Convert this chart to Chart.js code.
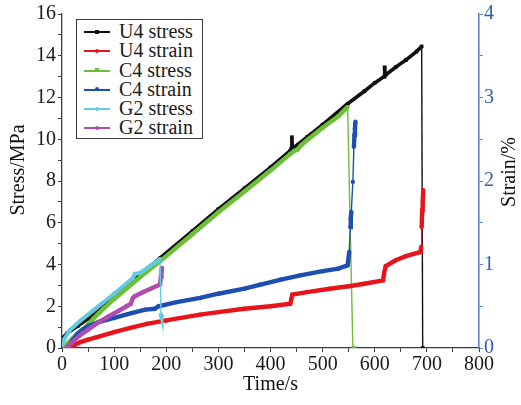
<!DOCTYPE html>
<html>
<head>
<meta charset="utf-8">
<script src="https://cdn.jsdelivr.net/npm/chart.js@4/dist/chart.umd.min.js"></script>
<style>
  html, body { margin: 0; padding: 0; background: #fff; }
  #wrap { position: relative; width: 521px; height: 405px; }
  #c { position: absolute; left: 0; top: 0; }
  #legend {
    position: absolute; left: 76px; top: 19px; width: 125px; height: 116px;
    border: 1.5px solid #3a3a3a; background: #fff; padding-top: 2px; box-sizing: content-box;
    font-family: 'Liberation Serif', 'DejaVu Serif', serif; font-size: 20px; color: #1a1a1a;
  }
  .row { position: relative; height: 19.3px; line-height: 19.3px; white-space: nowrap; }
  .ln { position: absolute; left: 7px; top: 9px; width: 26px; height: 2px; }
  .dot { position: absolute; left: 11px; top: -1.5px; width: 4px; height: 4px; border-radius: 2px; }
  .txt { position: absolute; left: 42px; top: 0; }
</style>
</head>
<body>
<div id="wrap">
  <canvas id="c" width="521" height="405"></canvas>
  <div id="legend"></div>
</div>
<script>
// ---------- data ----------
const xTitle = 'Time/s';
const yTitle = 'Stress/MPa';
const y2Title = 'Strain/%';

const labels = ['U4 stress', 'U4 strain', 'C4 stress', 'C4 strain', 'G2 stress', 'G2 strain'];

// U4 stress (MPa)
const u4StressTime = [0, 10, 30, 50, 73, 100, 150, 188, 250, 300, 350, 400, 438, 440, 441, 442, 470, 500, 548, 580, 600, 618, 619, 620, 622, 640, 660, 680, 690, 692];
const u4Stress     = [0.45, 0.7, 1.05, 1.4, 1.85, 2.45, 3.5, 4.3, 5.6, 6.65, 7.65, 8.65, 9.45, 9.55, 10.1, 9.55, 10.1, 10.7, 11.7, 12.3, 12.7, 13.0, 13.45, 13.1, 13.1, 13.45, 13.8, 14.2, 14.45, 0];

// U4 strain (%)
const u4StrainTime = [15, 25, 35, 50, 67, 100, 131, 163, 200, 265, 300, 350, 400, 438, 440, 442, 470, 514, 550, 580, 616, 618, 621, 640, 660, 688, 689, 690, 691, 692, 693];
const u4Strain     = [0, 0.04, 0.07, 0.1, 0.13, 0.19, 0.24, 0.29, 0.33, 0.4, 0.43, 0.47, 0.5, 0.53, 0.59, 0.64, 0.67, 0.71, 0.74, 0.77, 0.81, 0.9, 0.98, 1.05, 1.1, 1.15, 1.21, 1.45, 1.65, 1.75, 1.89];

// C4 stress (MPa)
const c4StressTime = [5, 10, 20, 30, 45, 60, 80, 100, 150, 188, 250, 300, 350, 400, 438, 446, 452, 458, 470, 500, 530, 548, 558, 561];
const c4Stress     = [0, 0.2, 0.45, 0.7, 1.0, 1.4, 1.9, 2.35, 3.4, 4.15, 5.45, 6.5, 7.5, 8.5, 9.3, 9.45, 9.5, 9.7, 9.95, 10.55, 11.1, 11.55, 0, 0];

// C4 strain (%)
const c4StrainTime = [10, 15, 20, 30, 40, 50, 70, 100, 135, 160, 178, 185, 220, 265, 300, 350, 381, 420, 457, 500, 530, 548, 551, 553, 554, 555, 558, 560, 561, 562, 563];
const c4Strain     = [0, 0.04, 0.09, 0.17, 0.22, 0.26, 0.31, 0.36, 0.42, 0.46, 0.47, 0.5, 0.55, 0.6, 0.65, 0.71, 0.76, 0.82, 0.87, 0.92, 0.95, 0.99, 1.15, 1.45, 1.55, 1.63, 1.99, 2.41, 2.55, 2.63, 2.71];

// G2 stress (MPa)
const g2StressTime = [0, 5, 15, 35, 60, 100, 136, 140, 150, 170, 188, 190, 191];
const g2Stress     = [0.15, 0.45, 0.85, 1.3, 1.8, 2.6, 3.35, 3.55, 3.6, 3.95, 4.25, 1.6, 1.5];

// G2 strain (%)
const g2StrainTime = [8, 15, 25, 34, 50, 73, 90, 110, 124, 132, 136, 140, 156, 170, 188, 190, 191, 192];
const g2Strain     = [0, 0.04, 0.1, 0.15, 0.22, 0.32, 0.38, 0.45, 0.5, 0.53, 0.6, 0.62, 0.67, 0.71, 0.76, 0.86, 0.93, 0.96];

// ---------- styling ----------
const colors = {
  'U4 stress': '#111111',
  'U4 strain': '#e8141c',
  'C4 stress': '#6cbf36',
  'C4 strain': '#1d4fb3',
  'G2 stress': '#62cbe0',
  'G2 strain': '#b04cb0'
};
const widths = {
  'U4 stress': 3.6,
  'U4 strain': 4.4,
  'C4 stress': 4.4,
  'C4 strain': 4.4,
  'G2 stress': 4.0,
  'G2 strain': 4.4
};
const FONT = "'Liberation Serif', 'DejaVu Serif', serif";

function pts(t, v) { return t.map((x, i) => ({ x: x, y: v[i] })); }

const thinW = 1.4;
function segWidthFor(w) {
  return ctx => {
    const dx = Math.abs(ctx.p1.x - ctx.p0.x), dy = Math.abs(ctx.p1.y - ctx.p0.y);
    return (dy > 20 && dy > 3 * dx) ? thinW : w;
  };
}

function ds(label, t, v, axis, style) {
  const c = colors[label];
  return {
    label: label,
    data: pts(t, v),
    yAxisID: axis,
    borderColor: c,
    backgroundColor: c,
    pointBackgroundColor: c,
    pointBorderColor: c,
    pointBorderWidth: 0,
    pointRadius: style === 'rect' ? 2.6 : 2.2,
    pointStyle: style || 'circle',
    borderWidth: widths[label],
    tension: 0,
    fill: false,
    segment: { borderWidth: segWidthFor(widths[label]) }
  };
}

// first dataset is drawn on top
const datasets = [
  ds('G2 stress', g2StressTime, g2Stress, 'y'),
  ds('G2 strain', g2StrainTime, g2Strain, 'y2'),
  ds('U4 strain', u4StrainTime, u4Strain, 'y2'),
  ds('C4 strain', c4StrainTime, c4Strain, 'y2'),
  ds('C4 stress', c4StressTime, c4Stress, 'y', 'rect'),
  ds('U4 stress', u4StressTime, u4Stress, 'y', 'rect')
];

const axisColor = '#3c3c3c';
const rightColor = '#5a85cc';

const titlesPlugin = {
  id: 'yTitles',
  afterDraw(chart) {
    const c = chart.ctx;
    c.save();
    c.font = '20px ' + FONT;
    c.fillStyle = '#111';
    c.textAlign = 'center';
    c.textBaseline = 'middle';
    c.translate(19, 170);
    c.rotate(-Math.PI / 2);
    c.fillText(yTitle, 0, 0);
    c.restore();
    c.save();
    c.font = '20px ' + FONT;
    c.fillStyle = '#111';
    c.textAlign = 'center';
    c.textBaseline = 'middle';
    c.translate(510, 172);
    c.rotate(-Math.PI / 2);
    c.fillText(y2Title, 0, 0);
    c.restore();
  }
};

const chart = new Chart(document.getElementById('c'), {
  type: 'line',
  data: { datasets: datasets },
  options: {
    responsive: false,
    animation: false,
    devicePixelRatio: 1,
    layout: { padding: { top: 14, left: 0, right: 0, bottom: 0 } },
    plugins: { legend: { display: false }, tooltip: { enabled: false } },
    scales: {
      x: {
        type: 'linear', min: 0, max: 800,
        afterFit: s => { s.height = 57; },
        border: { display: true, color: axisColor, width: 1.3 },
        grid: { drawOnChartArea: false, drawTicks: true, tickLength: 4, tickColor: axisColor },
        ticks: {
          stepSize: 50, autoSkip: false, maxRotation: 0, padding: 1,
          color: '#1a1a1a', font: { family: FONT, size: 20 },
          callback: v => (v % 100 === 0 ? String(v) : '')
        },
        title: { display: true, text: xTitle, color: '#111', font: { family: FONT, size: 20 }, padding: { top: 0, bottom: 8 } }
      },
      y: {
        type: 'linear', position: 'left', min: 0, max: 16,
        afterFit: s => { s.width = 62; },
        border: { display: true, color: axisColor, width: 1.3 },
        grid: { drawOnChartArea: false, drawTicks: true, tickLength: 4, tickColor: axisColor },
        ticks: {
          stepSize: 1, autoSkip: false, padding: 2,
          color: '#1a1a1a', font: { family: FONT, size: 20 },
          callback: v => (v % 2 === 0 ? String(v) : '')
        },
        title: { display: false }
      },
      y2: {
        type: 'linear', position: 'right', min: 0, max: 4,
        afterFit: s => { s.width = 42; },
        border: { display: true, color: rightColor, width: 1.6 },
        grid: { drawOnChartArea: false, drawTicks: true, tickLength: 4, tickColor: rightColor },
        ticks: {
          stepSize: 0.5, autoSkip: false, padding: 1,
          color: '#2c5fb6', font: { family: FONT, size: 20 },
          callback: v => (Number.isInteger(v) ? String(v) : '')
        },
        title: { display: false }
      }
    }
  },
  plugins: [titlesPlugin]
});

// ---------- HTML legend (real text) ----------
const legendEl = document.getElementById('legend');
labels.forEach(lab => {
  const d = chart.data.datasets.find(x => x.label === lab);
  const row = document.createElement('div');
  row.className = 'row';
  const ln = document.createElement('div');
  ln.className = 'ln';
  ln.style.background = d.borderColor;
  const dot = document.createElement('div');
  dot.className = 'dot';
  dot.style.background = d.borderColor;
  if (d.pointStyle === 'rect') dot.style.borderRadius = '0';
  ln.appendChild(dot);
  const tx = document.createElement('span');
  tx.className = 'txt';
  tx.textContent = d.label;
  row.appendChild(ln);
  row.appendChild(tx);
  legendEl.appendChild(row);
});
</script>
</body>
</html>
